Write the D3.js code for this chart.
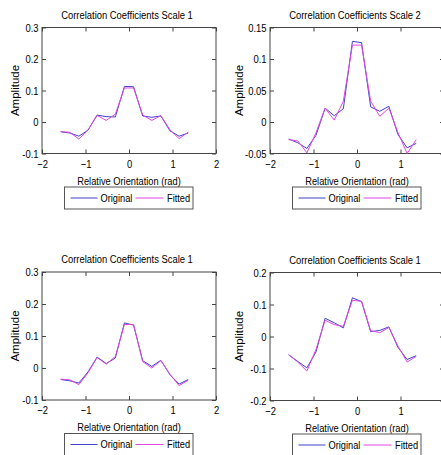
<!DOCTYPE html>
<html>
<head>
<meta charset="utf-8">
<script src="https://cdn.jsdelivr.net/npm/d3@7"></script>
<style>
  html, body { margin: 0; padding: 0; background: #fff; }
  svg { display: block; }
  text { font-family: "Liberation Sans", Arial, sans-serif; fill: #000; }
</style>
</head>
<body>
<svg id="chart" width="441" height="455"></svg>
<script>
// ---- data ----
const angles = [-1.571, -1.361, -1.152, -0.942, -0.733, -0.524, -0.314, -0.105, 0.105, 0.314, 0.524, 0.733, 0.942, 1.152, 1.361];

const original1 = [-0.031, -0.035, -0.045, -0.026, 0.022, 0.017, 0.016, 0.113, 0.112, 0.019, 0.015, 0.019, -0.028, -0.045, -0.035];
const fitted1   = [-0.030, -0.033, -0.054, -0.025, 0.021, 0.005, 0.025, 0.108, 0.108, 0.022, 0.005, 0.020, -0.025, -0.053, -0.032];

const original2 = [-0.027, -0.033, -0.042, -0.021, 0.022, 0.010, 0.021, 0.128, 0.126, 0.024, 0.017, 0.025, -0.020, -0.041, -0.034];
const fitted2   = [-0.028, -0.030, -0.049, -0.017, 0.022, 0.003, 0.033, 0.122, 0.122, 0.033, 0.009, 0.022, -0.017, -0.050, -0.028];

const original3 = [-0.036, -0.040, -0.047, -0.012, 0.034, 0.014, 0.031, 0.141, 0.134, 0.023, 0.005, 0.024, -0.021, -0.050, -0.036];
const fitted3   = [-0.035, -0.037, -0.052, -0.015, 0.033, 0.012, 0.036, 0.136, 0.136, 0.020, 0.000, 0.023, -0.020, -0.055, -0.038];

const original4 = [-0.057, -0.078, -0.098, -0.048, 0.057, 0.043, 0.027, 0.121, 0.109, 0.015, 0.019, 0.030, -0.034, -0.072, -0.060];
const fitted4   = [-0.057, -0.080, -0.108, -0.040, 0.051, 0.037, 0.032, 0.113, 0.110, 0.018, 0.012, 0.028, -0.030, -0.080, -0.062];

const titles = ["Correlation Coefficients Scale 1", "Correlation Coefficients Scale 2",
                "Correlation Coefficients Scale 1", "Correlation Coefficients Scale 1"];
const xTicks = [-2, -1, 0, 1, 2];
const xTickLabelsLeft = [-2, -1, 0, 1, 2];
const xTickLabelsRight = [-2, -1, 0, 1];
const yTicks1 = [-0.1, 0, 0.1, 0.2, 0.3];
const yTicks2 = [-0.05, 0, 0.05, 0.1, 0.15];
const yTicks3 = [-0.1, 0, 0.1, 0.2, 0.3];
const yTicks4 = [-0.2, -0.1, 0, 0.1, 0.2];
const xLabel = "Relative Orientation (rad)";
const yLabel = "Amplitude";
const seriesNames = ["Original", "Fitted"];

// ---- layout ----
const colors = ["#4040c8", "#e048e0"];
const SX = 0.82; // horizontal condensing of text
const layout = [
  { x0: 42,  x1: 216, top: 27.5, bottom: 153.5, ylab: 15 },
  { x0: 270, x1: 444, top: 27.5, bottom: 153.5, ylab: 239 },
  { x0: 42,  x1: 216, top: 272,  bottom: 400,   ylab: 15 },
  { x0: 270, x1: 444, top: 272.5, bottom: 400.5, ylab: 239 }
];
const panels = [
  { title: titles[0], yTicks: yTicks1, orig: original1, fit: fitted1, xl: xTickLabelsLeft },
  { title: titles[1], yTicks: yTicks2, orig: original2, fit: fitted2, xl: xTickLabelsRight },
  { title: titles[2], yTicks: yTicks3, orig: original3, fit: fitted3, xl: xTickLabelsLeft },
  { title: titles[3], yTicks: yTicks4, orig: original4, fit: fitted4, xl: xTickLabelsRight }
];

const svg = d3.select("#chart");
const fmt = d => (Math.abs(d) < 1e-9 ? "0" : String(+d.toFixed(2)));

function condensedText(parent, x, y, str, size, anchor) {
  return parent.append("text")
    .attr("transform", `translate(${x},${y}) scale(${SX},1)`)
    .attr("text-anchor", anchor).attr("dominant-baseline", "central")
    .attr("font-size", size).text(str);
}

panels.forEach((p, i) => {
  const L = layout[i];
  const x = d3.scaleLinear().domain([-2, 2]).range([L.x0, L.x1]);
  const y = d3.scaleLinear().domain(d3.extent(p.yTicks)).range([L.bottom, L.top]);
  const g = svg.append("g");

  // axes (ticks inward)
  const axB = g.append("g").attr("transform", `translate(0,${L.bottom})`)
    .call(d3.axisBottom(x).tickValues(xTicks).tickSizeInner(-4).tickSizeOuter(0).tickFormat(""));
  const axBL = g.append("g").attr("transform", `translate(0,${L.bottom})`)
    .call(d3.axisBottom(x).tickValues(p.xl).tickSize(0).tickPadding(6).tickFormat(d3.format("d")));
  const axT = g.append("g").attr("transform", `translate(0,${L.top})`)
    .call(d3.axisTop(x).tickValues(xTicks).tickSizeInner(-4).tickSizeOuter(0).tickFormat(""));
  const axL = g.append("g").attr("transform", `translate(${L.x0},0)`)
    .call(d3.axisLeft(y).tickValues(p.yTicks).tickSizeInner(-4).tickSizeOuter(0).tickPadding(3.5).tickFormat(fmt));
  const axR = g.append("g").attr("transform", `translate(${L.x1},0)`)
    .call(d3.axisRight(y).tickValues(p.yTicks).tickSizeInner(-4).tickSizeOuter(0).tickFormat(""));
  [axB, axBL, axT, axL, axR].forEach(a => {
    a.select(".domain").remove();
    a.selectAll("line").attr("stroke", "#444").attr("stroke-width", 1);
    a.selectAll("text").attr("font-size", 11.5).attr("fill", "#000")
      .style("font-family", '"Liberation Sans", Arial, sans-serif');
  });
  axBL.selectAll("line").remove();
  // condense tick labels horizontally around their anchor
  axBL.selectAll("text").attr("transform", `scale(${SX},1)`);
  axL.selectAll("text").each(function () {
    const t = d3.select(this);
    const xx = +t.attr("x");
    t.attr("x", xx / SX).attr("transform", `scale(${SX},1)`);
  });

  // frame
  g.append("rect")
    .attr("x", L.x0).attr("y", L.top)
    .attr("width", L.x1 - L.x0).attr("height", L.bottom - L.top)
    .attr("fill", "none").attr("stroke", "#444").attr("stroke-width", 1);

  // lines
  const line = d3.line().x((d, k) => x(angles[k])).y(d => y(d));
  [p.orig, p.fit].forEach((vals, s) => {
    g.append("path").datum(vals)
      .attr("d", line).attr("fill", "none")
      .attr("stroke", colors[s]).attr("stroke-width", 1);
  });

  const cx = (L.x0 + L.x1) / 2;
  // title
  condensedText(g, cx - 2, L.top - 13, p.title, 11.5, "middle");
  // x label
  condensedText(g, cx, L.bottom + 27.5, xLabel, 11.3, "middle");
  // y label
  g.append("text")
    .attr("transform", `translate(${L.ylab},${(L.top + L.bottom) / 2}) rotate(-90) scale(1,${SX + 0.08})`)
    .attr("text-anchor", "middle").attr("dominant-baseline", "central")
    .attr("font-size", 11.5)
    .text(yLabel);

  // legend
  const lx = L.x0 + 22.5, ly = L.bottom + 33.5, lw = 128.5, lh = 22;
  const lg = g.append("g");
  lg.append("rect").attr("x", lx).attr("y", ly).attr("width", lw).attr("height", lh)
    .attr("fill", "#fff").attr("stroke", "#555").attr("stroke-width", 1);
  const items = [
    { l0: 6, l1: 33, t: 36 },
    { l0: 71, l1: 99, t: 102.5 }
  ];
  items.forEach((it, s) => {
    lg.append("line").attr("x1", lx + it.l0).attr("x2", lx + it.l1)
      .attr("y1", ly + lh / 2).attr("y2", ly + lh / 2)
      .attr("stroke", colors[s]).attr("stroke-width", 1);
    condensedText(lg, lx + it.t, ly + lh / 2, seriesNames[s], 11.3, "start");
  });
});
</script>
</body>
</html>
